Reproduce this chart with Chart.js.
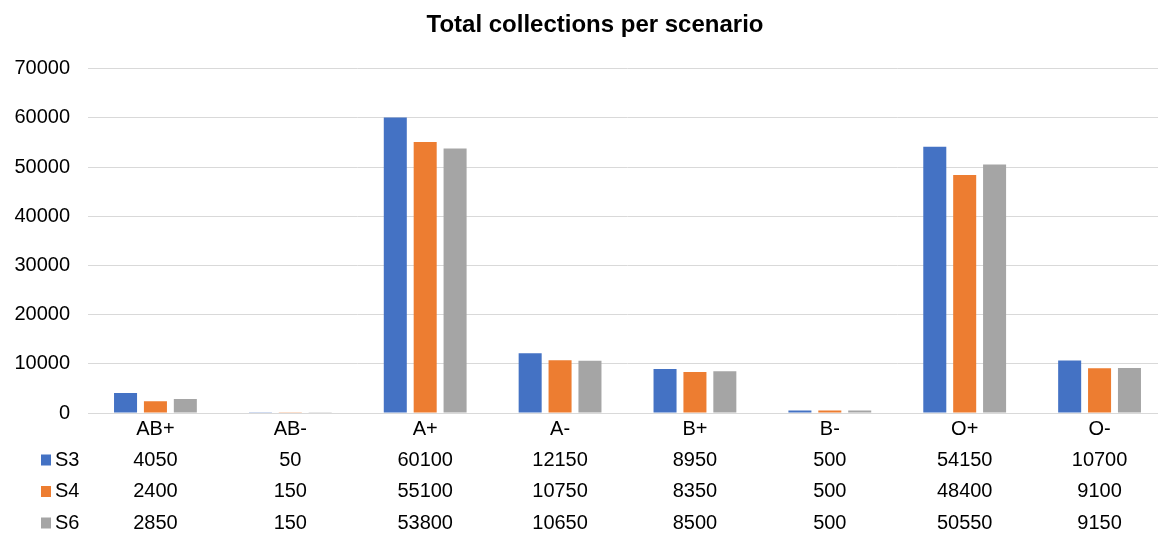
<!DOCTYPE html>
<html>
<head>
<meta charset="utf-8">
<script src="https://cdn.jsdelivr.net/npm/chart.js@4/dist/chart.umd.min.js"></script>
<style>
  html, body { margin: 0; padding: 0; background: #ffffff; overflow: hidden; }
  #wrap { width: 1190px; height: 533px; }
</style>
</head>
<body>
<div id="wrap"><canvas id="chart" width="1190" height="533"></canvas></div>
<script>
// Blood groups and total collections for each scenario
const categories = ['AB+', 'AB-', 'A+', 'A-', 'B+', 'B-', 'O+', 'O-'];
const seriesNames = ['S3', 'S4', 'S6'];
const s3Values = [4050, 50, 60100, 12150, 8950, 500, 54150, 10700];
const s4Values = [2400, 150, 55100, 10750, 8350, 500, 48400, 9100];
const s6Values = [2850, 150, 53800, 10650, 8500, 500, 50550, 9150];
const yTicks = [0, 10000, 20000, 30000, 40000, 50000, 60000, 70000];

const seriesValues = [s3Values, s4Values, s6Values];
const seriesColors = ['#4472C4', '#ED7D31', '#A5A5A5'];
const FONT = "'Liberation Sans', Arial, sans-serif";
const TEXT = '#000000';
const GRID = '#d9d9d9';

// Data table under the plot: category row, then one row per series with its key
const dataTable = {
  id: 'dataTable',
  afterDraw(chart) {
    const ctx = chart.ctx;
    const x = chart.scales.x;
    const rowY = [429, 460, 491.5, 523];
    ctx.save();
    ctx.font = '20px ' + FONT;
    ctx.fillStyle = TEXT;
    ctx.textBaseline = 'middle';
    ctx.textAlign = 'center';
    categories.forEach((c, i) => ctx.fillText(c, x.getPixelForValue(i), rowY[0]));
    seriesNames.forEach((name, s) => {
      const y = rowY[s + 1];
      ctx.fillStyle = seriesColors[s];
      ctx.fillRect(41, y - 5.5, 10, 11);
      ctx.fillStyle = TEXT;
      ctx.textAlign = 'left';
      ctx.fillText(name, 55, y);
      ctx.textAlign = 'center';
      seriesValues[s].forEach((v, i) => ctx.fillText(String(v), x.getPixelForValue(i), y));
    });
    ctx.restore();
  }
};

new Chart(document.getElementById('chart'), {
  type: 'bar',
  data: {
    labels: categories,
    datasets: seriesNames.map((name, s) => ({
      label: name,
      data: seriesValues[s],
      backgroundColor: seriesColors[s],
      categoryPercentage: 0.665,
      barPercentage: 0.77
    }))
  },
  options: {
    responsive: false,
    animation: false,
    devicePixelRatio: 1,
    layout: { padding: { left: 0, right: 0, top: 0, bottom: 120 } },
    plugins: {
      legend: { display: false },
      tooltip: { enabled: false },
      title: {
        display: true,
        text: 'Total collections per scenario',
        color: TEXT,
        font: { family: FONT, size: 24, weight: 'bold', lineHeight: 1.2 },
        padding: { top: 11, bottom: 29 }
      }
    },
    scales: {
      x: {
        grid: { display: false, drawTicks: false },
        border: { display: true, color: GRID, width: 1 },
        ticks: { display: false }
      },
      y: {
        min: 0,
        max: 70000,
        afterFit(scale) { scale.width = 88; },
        afterBuildTicks(scale) { scale.ticks = yTicks.map(v => ({ value: v })); },
        grid: { color: GRID, lineWidth: 1, drawTicks: false },
        border: { display: false },
        ticks: {
          color: TEXT,
          padding: 18,
          font: { family: FONT, size: 20 },
          callback: v => String(v)
        }
      },
      // blank right-hand margin beside the plot
      margin: {
        position: 'right',
        min: 0,
        max: 1,
        afterFit(scale) { scale.width = 23; },
        grid: { display: false, drawTicks: false },
        border: { display: false },
        ticks: { display: false }
      }
    }
  },
  plugins: [dataTable]
});
</script>
</body>
</html>
